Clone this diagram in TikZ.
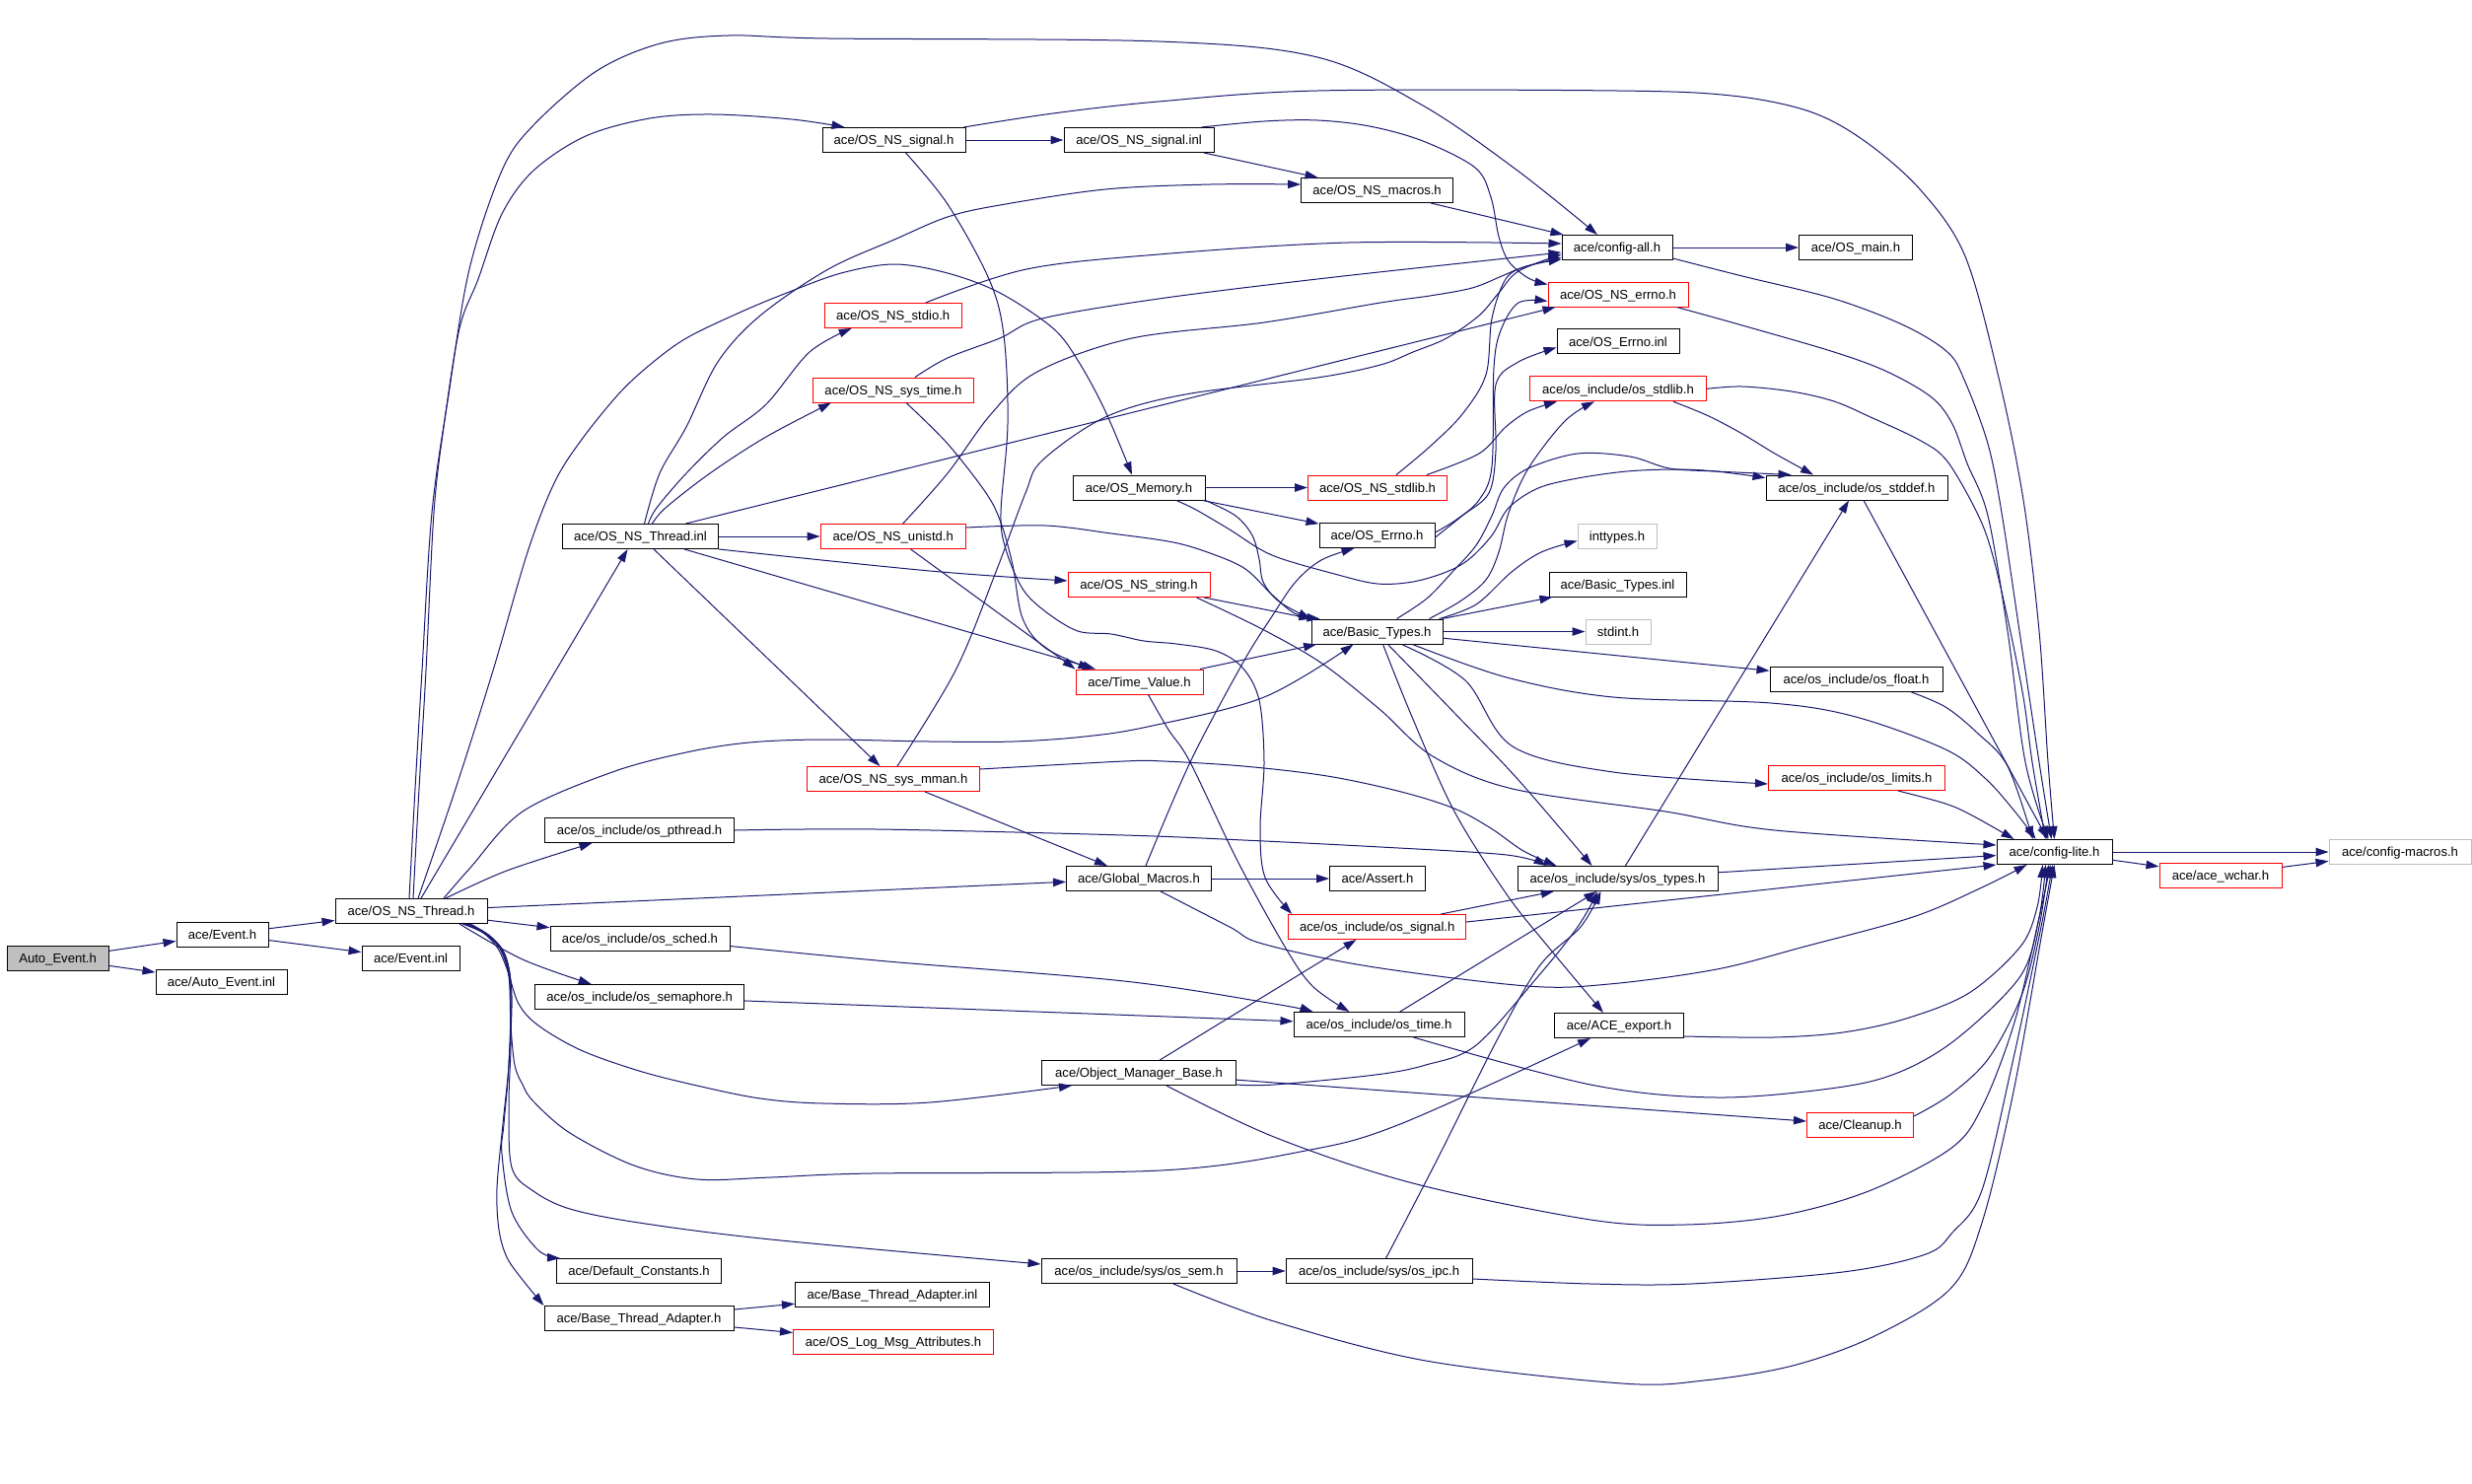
\documentclass[tikz,border=0pt]{standalone}
\usepackage{fontspec}
\setmainfont{Liberation Sans}
\usetikzlibrary{arrows.meta,calc}
\definecolor{edgeblue}{HTML}{191970}
\definecolor{boxgray}{HTML}{BFBFBF}
\tikzset{
  nd/.style={draw=black, fill=white, line width=0.5pt, minimum height=12.5pt, inner sep=0pt,
    font=\fontsize{6.55pt}{8pt}\selectfont, text height=4.7pt, text depth=0pt},
  rd/.style={nd, draw=red},
  gy/.style={nd, draw=boxgray},
  wd/.style={minimum width=#1*0.5pt},
  ed/.style={draw=edgeblue, line width=0.5pt, -{Triangle[length=6.5pt,width=4.2pt]}},
  sm/.style={smooth, tension=0.55}
}
\begin{document}
\begin{tikzpicture}[x=0.5pt, y=-0.5pt]
\fill[white] (0,0) rectangle (2507,1505);
\useasboundingbox (0,0) rectangle (2507,1505);
% nodes
\node[nd, fill=boxgray, wd=103] (autoev) at (58.6,972) {Auto\_Event.h};
\node[nd, wd=93] (eventh) at (225.5,947.5) {ace/Event.h};
\node[nd, wd=133] (autoinl) at (224.5,995.5) {ace/Auto\_Event.inl};
\node[nd, wd=154] (thrh) at (417,924) {ace/OS\_NS\_Thread.h};
\node[nd, wd=99] (eventinl) at (416.5,972) {ace/Event.inl};
\node[nd, wd=158] (thrinl) at (649.5,544) {ace/OS\_NS\_Thread.inl};
\node[nd, wd=192] (pthr) at (648.5,842) {ace/os\_include/os\_pthread.h};
\node[nd, wd=182] (sched) at (649,951.5) {ace/os\_include/os\_sched.h};
\node[nd, wd=212] (sema) at (648.7,1011) {ace/os\_include/os\_semaphore.h};
\node[nd, wd=167] (defc) at (648,1289) {ace/Default\_Constants.h};
\node[nd, wd=192] (bta) at (648,1337) {ace/Base\_Thread\_Adapter.h};
\node[nd, wd=197] (btainl) at (905,1313) {ace/Base\_Thread\_Adapter.inl};
\node[rd, wd=203] (logmsg) at (906,1361) {ace/OS\_Log\_Msg\_Attributes.h};
\node[nd, wd=145] (sigh) at (906.5,142) {ace/OS\_NS\_signal.h};
\node[nd, wd=152] (siginl) at (1155,142) {ace/OS\_NS\_signal.inl};
\node[nd, wd=154] (macros) at (1396.6,193) {ace/OS\_NS\_macros.h};
\node[nd, wd=112] (cfgall) at (1640,251) {ace/config-all.h};
\node[nd, wd=115] (osmain) at (1882,251) {ace/OS\_main.h};
\node[rd, wd=142] (nserrno) at (1641,298.5) {ace/OS\_NS\_errno.h};
\node[nd, wd=124] (errinl) at (1641,346.4) {ace/OS\_Errno.inl};
\node[rd, wd=179] (osstdlib) at (1641,394.3) {ace/os\_include/os\_stdlib.h};
\node[rd, wd=139] (stdio) at (905.7,320) {ace/OS\_NS\_stdio.h};
\node[rd, wd=163] (systime) at (906,395.5) {ace/OS\_NS\_sys\_time.h};
\node[nd, wd=134] (memory) at (1155,494.5) {ace/OS\_Memory.h};
\node[rd, wd=141] (nsstdlib) at (1397,494.5) {ace/OS\_NS\_stdlib.h};
\node[nd, wd=184] (stddef) at (1883,494.5) {ace/os\_include/os\_stddef.h};
\node[rd, wd=147] (unistd) at (905.7,544) {ace/OS\_NS\_unistd.h};
\node[nd, wd=117] (errnoh) at (1396.5,543) {ace/OS\_Errno.h};
\node[gy, wd=80] (inttypes) at (1640,543.5) {inttypes.h};
\node[rd, wd=144] (string) at (1155,593) {ace/OS\_NS\_string.h};
\node[nd, wd=139] (btinl) at (1640.5,592.5) {ace/Basic\_Types.inl};
\node[nd, wd=133] (bth) at (1396.5,640.5) {ace/Basic\_Types.h};
\node[gy, wd=66] (stdint) at (1641,640.5) {stdint.h};
\node[rd, wd=129] (timev) at (1155.5,691.5) {ace/Time\_Value.h};
\node[nd, wd=175] (float) at (1882.5,689) {ace/os\_include/os\_float.h};
\node[rd, wd=175] (mman) at (906,790) {ace/OS\_NS\_sys\_mman.h};
\node[rd, wd=179] (limits) at (1883,789) {ace/os\_include/os\_limits.h};
\node[nd, wd=117] (cfglite) at (2083.5,864) {ace/config-lite.h};
\node[gy, wd=144] (cfgmac) at (2434,864) {ace/config-macros.h};
\node[rd, wd=124] (wchar) at (2252,887.5) {ace/ace\_wchar.h};
\node[nd, wd=147] (glob) at (1155,891) {ace/Global\_Macros.h};
\node[nd, wd=97] (assert) at (1397,891) {ace/Assert.h};
\node[nd, wd=203] (types) at (1640.5,891) {ace/os\_include/sys/os\_types.h};
\node[rd, wd=180] (signal) at (1396.7,940) {ace/os\_include/os\_signal.h};
\node[nd, wd=173] (ostime) at (1398.5,1039) {ace/os\_include/os\_time.h};
\node[nd, wd=131] (export) at (1642,1040) {ace/ACE\_export.h};
\node[nd, wd=197] (omb) at (1155,1088) {ace/Object\_Manager\_Base.h};
\node[rd, wd=108] (cleanup) at (1886.5,1141) {ace/Cleanup.h};
\node[nd, wd=198] (sem) at (1155,1289) {ace/os\_include/sys/os\_sem.h};
\node[nd, wd=189] (ipc) at (1398.6,1289) {ace/os\_include/sys/os\_ipc.h};
% straight edges
\draw[ed] (autoev) -- (eventh);
\draw[ed] (autoev) -- (autoinl);
\draw[ed] (eventh) -- (thrh);
\draw[ed] (eventh) -- (eventinl);
\draw[ed] ($(thrh.north)+(10,0)$) -- ($(thrinl.south)+(-13,0)$);
\draw[ed] (thrh) -- (glob);
\draw[ed] (thrh) -- (sched);
\draw[ed] (sigh) -- (siginl);
\draw[ed] ($(siginl.south)+(66,0)$) -- (macros);
\draw[ed] (macros) -- (cfgall);
\draw[ed] (cfgall) -- (osmain);
\draw[ed] (memory) -- (nsstdlib);
\draw[ed] (memory) -- (errnoh);
\draw[ed] (thrinl) -- (unistd);
\draw[ed] (thrinl) -- (timev);
\draw[ed] (thrinl) -- (mman);
\draw[ed] ($(thrinl.north)+(46,0)$) -- ($(nserrno.south west)+(8,0)$);
\draw[ed] (unistd) -- (timev.north west);
\draw[ed] (timev) -- (bth);
\draw[ed] (string) -- (bth);
\draw[ed] (mman) -- (glob);
\draw[ed] (bth) -- (stdint);
\draw[ed] (bth) -- (btinl);
\draw[ed] (bth) -- (float);
\draw[ed] (glob) -- (assert);
\draw[ed] (types) -- (stddef);
\draw[ed] (ostime) -- (types);
\draw[ed] (signal) -- (types);
\draw[ed] (omb) -- (signal);
\draw[ed] (omb) -- (cleanup);
\draw[ed] (sema) -- (ostime);
\draw[ed] (stddef) -- (cfglite);
\draw[ed] (types) -- (cfglite);
\draw[ed] ($(signal.east)+(0,-5)$) -- (cfglite.south west);
\draw[ed] (cfglite) -- (cfgmac);
\draw[ed] (cfglite) -- (wchar);
\draw[ed] (wchar) -- (cfgmac);
\draw[ed] (sem) -- (ipc);
\draw[ed] (bta) -- (btainl);
\draw[ed] (bta) -- (logmsg);
% curved edges from OS_NS_Thread.h
\draw[ed] plot[sm] coordinates {($(thrh.north)+(-2,0)$) (421,800) (428,680) (438,520) (455,400) (476,273) (509,173) (541,127) (605,72) (670,44) (739,36) (840,39) (1175,42) (1336,58) (1443,107) (1539,173) ($(cfgall.north)+(-20,0)$)};
\draw[ed] plot[sm] coordinates {($(thrh.north)+(2,0)$) (425,800) (432,680) (440,520) (450,433) (466,333) (485,283) (509,217) (541,173) (594,138) (659,120) (723,116) (803,121) ($(sigh.north)+(-50,0)$)};
\draw[ed] plot[sm] coordinates {($(thrh.north)+(7,0)$) (462,800) (500,680) (535,560) (562,490) (589,447) (627,400) (659,370) (696,343) (750,317) (798,297) (853,277) (907,268) (961,277) (1014,297) (1068,333) (1094,367) (1121,417) ($(memory.north)+(-7,0)$)};
\draw[ed] plot[sm] coordinates {($(thrh.north)+(33,0)$) (477,880) (530,823) (621,783) (696,763) (760,753) (835,750) (943,752) (1028,752) (1100,747) (1164,737) (1282,707) ($(bth.south)+(-24,0)$)};
\draw[ed] plot[sm] coordinates {($(thrh.north)+(35,0)$) (514,883) ($(pthr.south)+(-48,0)$)};
\draw[ed] plot[sm] coordinates {($(thrh.south)+(49,0)$) (530,973) ($(sema.north)+(-49,0)$)};
\draw[ed] plot[sm] coordinates {($(thrh.south)+(52,0)$) (490,946) (505,962) (515,985) (526,1018) (546,1040) (589,1065) (648,1086) (707,1101) (771,1114) (835,1119) (943,1118) ($(omb.south)+(-68,0)$)};
\draw[ed] plot[sm] coordinates {($(thrh.south)+(54,0)$) (492,947) (507,962) (516,990) (518,1040) (522,1080) (530,1100) (541,1117) (578,1149) (643,1182) (707,1196) (782,1194) (884,1190) (1177,1187) (1324,1167) (1420,1140) ($(export.south)+(-29,0)$)};
\draw[ed] plot[sm] coordinates {($(thrh.south)+(56,0)$) (494,948) (509,965) (517,995) (518,1060) (516,1120) (519,1184) (541,1208) (578,1226) (648,1240) (782,1257) ($(sem.west)+(0,-7)$)};
\draw[ed] plot[sm] coordinates {($(thrh.south)+(58,0)$) (496,949) (511,967) (518,1000) (516,1080) (511,1140) (509,1170) (519,1229) (546,1268) ($(defc.north west)+(4,0)$)};
\draw[ed] plot[sm] coordinates {($(thrh.south)+(60,0)$) (498,950) (513,970) (519,1010) (516,1080) (510,1140) (504,1205) (506,1247) (514,1275) (530,1298) (bta.north west)};
% from OS_NS_Thread.inl
\draw[ed] plot[sm] coordinates {($(thrinl.north)+(4,0)$) (669,480) (696,433) (728,367) (771,320) (840,273) (907,243) (961,220) (1014,208) (1121,192) (1228,187) ($(macros.west)+(0,-6)$)};
\draw[ed] plot[sm] coordinates {($(thrinl.north)+(8,0)$) (666,515) (696,480) (734,443) (777,410) (821,357) ($(stdio.south)+(-42,0)$)};
\draw[ed] plot[sm] coordinates {($(thrinl.north)+(12,0)$) (675,515) (720,480) (777,443) ($(systime.south)+(-63,0)$)};
\draw[ed] plot[sm] coordinates {(thrinl.south east) (943,579) ($(string.west)+(0,-4)$)};
% OS_NS_signal.h and .inl
\draw[ed] plot[sm] coordinates {($(sigh.north east)+(-2,0)$) (1068,115) (1175,103) (1336,92) (1640,92) (1756,97) (1835,113) (1891,143) (1948,193) (1993,260) (2027,383) (2052,507) (2068,640) (2077,773) ($(cfglite.north)+(0,0)$)};
\draw[ed] plot[sm] coordinates {($(sigh.south)+(12,0)$) (961,207) (1003,283) (1018,340) (1022,430) (1015,520) (1020,557) (1037,597) (1060,620) (1093,640) (1127,643) (1160,650) (1193,653) (1233,660) (1260,677) (1277,710) (1282,773) (1278,840) (1283,890) ($(signal.north west)+(4,0)$)};
\draw[ed] plot[sm] coordinates {($(siginl.north east)+(-13,0)$) (1282,123) (1336,122) (1389,128) (1443,143) (1496,170) (1512,200) (1520,240) (1530,265) (1550,282) ($(nserrno.north west)+(0,3)$)};
% into config-all.h
\draw[ed] plot[sm] coordinates {($(stdio.north)+(33,0)$) (1041,273) (1175,258) (1368,246) ($(cfgall.west)+(0,-4)$)};
\draw[ed] plot[sm] coordinates {($(systime.north)+(22,0)$) (961,363) (1014,343) (1057,323) (1175,303) (1336,283) (1500,265) ($(cfgall.west)+(0,5)$)};
\draw[ed] plot[sm] coordinates {($(unistd.north)+(10,0)$) (961,480) (1005,420) (1052,377) (1148,343) (1282,327) (1400,307) (1450,300) (1493,292) (1523,280) (1545,271) ($(cfgall.west)+(0,10)$)};
\draw[ed] plot[sm] coordinates {($(mman.north)+(4,0)$) (969,680) (1010,580) (1040,500) (1057,467) (1121,423) (1202,400) (1336,383) (1400,370) (1433,357) (1467,343) (1500,320) (1520,297) (1540,275) ($(cfgall.west)+(0,7)$)};
\draw[ed] plot[sm] coordinates {($(nsstdlib.north)+(19,0)$) (1450,453) (1483,420) (1507,380) (1513,323) (1527,283) (1548,270) ($(cfgall.west)+(0,12)$)};
\draw[ed] plot[sm] coordinates {($(systime.south)+(13,0)$) (961,450) (1000,500) (1015,530) (1027,573) (1037,627) (1060,657) ($(timev.north west)+(16,0)$)};
% errno and stdlib
\draw[ed] plot[sm] coordinates {($(nsstdlib.north)+(50,0)$) (1500,460) (1527,433) (1550,417) ($(osstdlib.south)+(-62,0)$)};
\draw[ed] plot[sm] coordinates {($(bth.north)+(53,0)$) (1482,609) (1507,588) (1520,560) (1530,520) (1550,475) (1587,427) ($(osstdlib.south)+(-24,0)$)};
\draw[ed] plot[sm] coordinates {($(errnoh.east)+(0,-3)$) (1477,527) (1500,507) (1513,473) (1515,373) (1522,335) (1540,307) ($(nserrno.west)+(0,7)$)};
\draw[ed] plot[sm] coordinates {($(errnoh.east)+(0,2)$) (1483,523) (1510,500) (1517,457) (1517,390) (1540,367) ($(errinl.west)+(0,6)$)};
\draw[ed] plot[sm] coordinates {($(osstdlib.south)+(56,0)$) (1733,422) (1767,440) (1800,460) ($(stddef.north)+(-44,0)$)};
% into config-lite.h from above
\draw[ed] plot[sm] coordinates {(osstdlib.east) (1767,392) (1817,397) (1860,407) (1897,423) (1948,447) (1975,468) (2005,520) (2020,560) (2036,627) (2052,707) (2061,773) ($(cfglite.north)+(-9,0)$)};
\draw[ed] plot[sm] coordinates {($(nserrno.south east)+(-12,0)$) (1767,330) (1860,357) (1914,377) (1959,403) (1980,430) (1995,470) (2016,523) (2036,640) (2054,773) ($(cfglite.north)+(-6,0)$)};
\draw[ed] plot[sm] coordinates {($(cfgall.east)+(0,11)$) (1767,280) (1860,303) (1931,330) (1975,357) (1992,385) (2016,450) (2030,520) (2048,640) (2068,773) ($(cfglite.north)+(-3,0)$)};
\draw[ed] plot[sm] coordinates {($(float.south)+(56,0)$) (1973,717) (2005,743) (2036,777) ($(cfglite.north)+(-22,0)$)};
\draw[ed] plot[sm] coordinates {($(bth.south east)+(-31,0)$) (1528,687) (1636,707) (1796,713) (1882,727) (1973,760) (2014,790) (2045,825) ($(cfglite.north)+(-19,0)$)};
\draw[ed] plot[sm] coordinates {($(limits.south)+(42,0)$) (1973,815) (2000,827) ($(cfglite.north west)+(18,0)$)};
\draw[ed] plot[sm] coordinates {($(string.south east)+(-14,0)$) (1280,638) (1341,673) (1400,720) (1453,767) (1534,800) (1689,823) (1800,842) ($(cfglite.west)+(0,-7)$)};
% into config-lite.h from below
\draw[ed] plot[sm] coordinates {($(glob.south)+(22,0)$) (1247,940) (1280,957) (1388,980) (1549,1000) (1632,998) (1741,983) (1830,960) (1940,930) (2010,900) ($(cfglite.south)+(-28,0)$)};
\draw[ed] plot[sm] coordinates {($(export.south east)+(0,-2)$) (1799,1052) (1869,1047) (1933,1033) (1997,1007) (2049,960) (2066,920) ($(cfglite.south)+(-12,0)$)};
\draw[ed] plot[sm] coordinates {($(ostime.south)+(35,0)$) (1613,1100) (1741,1113) (1863,1103) (1927,1087) (1985,1053) (2049,990) (2068,930) ($(cfglite.south)+(-9,0)$)};
\draw[ed] plot[sm] coordinates {($(cleanup.east)+(0,-9)$) (1978,1110) (2017,1073) (2050,1010) (2068,940) ($(cfglite.south)+(-6,0)$)};
\draw[ed] plot[sm] coordinates {($(omb.south)+(28,0)$) (1292,1153) (1433,1200) (1613,1237) (1709,1242) (1805,1233) (1895,1208) (1978,1165) (2010,1123) (2042,1040) (2066,940) ($(cfglite.south)+(-4,0)$)};
\draw[ed] plot[sm] coordinates {($(ipc.east)+(0,8)$) (1613,1302) (1715,1302) (1869,1290) (1953,1272) (1980,1250) (2010,1207) (2042,1073) (2070,940) ($(cfglite.south)+(-2,0)$)};
\draw[ed] plot[sm] coordinates {($(sem.south)+(35,0)$) (1292,1340) (1446,1380) (1645,1403) (1728,1400) (1818,1385) (1901,1355) (1978,1307) (2010,1240) (2042,1107) (2072,940) (cfglite.south)};
% os_types.h and others
\draw[ed] plot[sm] coordinates {($(omb.south east)+(0,-1)$) (1292,1100) (1395,1090) (1446,1080) (1497,1060) (1560,990) (1600,940) ($(types.south)+(-20,0)$)};
\draw[ed] plot[sm] coordinates {($(ipc.north)+(7,0)$) (1459,1173) (1517,1057) (1561,980) (1603,940) ($(types.south)+(-17,0)$)};
\draw[ed] plot[sm] coordinates {($(bth.south)+(11,0)$) (1475,723) (1539,790) ($(types.north)+(-26,0)$)};
\draw[ed] plot[sm] coordinates {($(bth.south)+(6,0)$) (1432,727) (1475,823) (1528,907) (1570,960) ($(export.north)+(-16,0)$)};
\draw[ed] plot[sm] coordinates {($(bth.south)+(25,0)$) (1486,690) (1534,757) (1636,783) ($(limits.west)+(0,6)$)};
\draw[ed] plot[sm] coordinates {($(bth.north)+(63,0)$) (1497,613) (1533,580) (1563,560) ($(inttypes.west)+(0,5)$)};
\draw[ed] plot[sm] coordinates {($(bth.north)+(20,0)$) (1447,607) (1473,580) (1497,553) (1513,523) (1525,495) (1550,475) (1600,460) (1653,463) (1693,475) (1740,478) ($(stddef.north west)+(26,0)$)};
\draw[ed] plot[sm] coordinates {($(memory.south)+(38,0)$) (1213,517) (1247,537) (1290,563) (1357,583) (1397,592) (1433,590) (1467,580) (1490,567) (1513,543) (1530,515) (1560,495) (1600,485) (1650,478) (1700,476) (1740,478) ($(stddef.west)+(0,-10)$)};
\draw[ed] plot[sm] coordinates {(memory.south east) (1253,523) (1270,543) (1277,567) (1281,590) (1297,610) (bth.north west)};
\draw[ed] plot[sm] coordinates {($(unistd.east)+(0,-9)$) (1060,533) (1127,541) (1190,550) (1230,562) (1263,577) (1290,603) (1313,622) ($(bth.north)+(-58,0)$)};
\draw[ed] plot[sm] coordinates {($(timev.south)+(9,0)$) (1185,740) (1207,773) (1255,873) (1303,960) (1331,1000) ($(ostime.north)+(-30,0)$)};
\draw[ed] plot[sm] coordinates {($(sched.east)+(0,8)$) (900,975) (1140,995) (1292,1018) ($(ostime.north west)+(20,0)$)};
\draw[ed] plot[sm] coordinates {($(glob.north)+(7,0)$) (1207,773) (1260,673) (1290,625) (1314,590) (1340,568) ($(errnoh.south)+(-23,0)$)};
\draw[ed] plot[sm] coordinates {(pthr.east) (889,841) (1140,847) (1261,852) (1400,859) (1528,867) ($(types.north west)+(30,0)$)};
\draw[ed] plot[sm] coordinates {($(mman.east)+(0,-10)$) (1140,772) (1180,772) (1261,777) (1346,787) (1421,803) (1475,820) (1512,840) (1545,863) ($(types.north west)+(40,0)$)};
\end{tikzpicture}
\end{document}
